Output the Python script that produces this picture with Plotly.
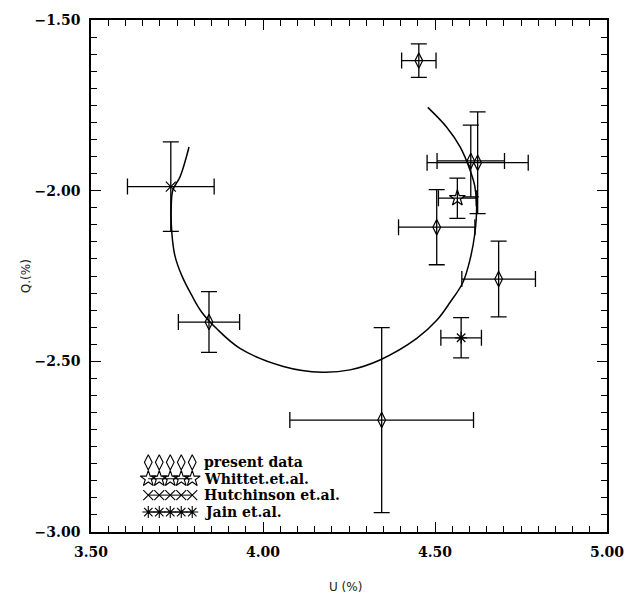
import plotly.graph_objects as go

# ---- present data (open diamonds) ----
present_u = [4.453, 4.604, 4.624, 4.505, 4.685, 3.843, 4.345]
present_q = [-1.619, -1.913, -1.918, -2.107, -2.259, -2.385, -2.672]
present_du = [0.050, 0.098, 0.147, 0.111, 0.107, 0.089, 0.267]
present_dq = [0.049, 0.105, 0.149, 0.110, 0.111, 0.089, 0.271]

# ---- Whittet et al. (star) ----
whittet_u = [4.565]
whittet_q = [-2.022]
whittet_du = [0.055]
whittet_dq = [0.059]

# ---- Hutchinson et al. (cross) ----
hutch_u = [3.732]
hutch_q = [-1.988]
hutch_du = [0.126]
hutch_dq = [0.131]

# ---- Jain et al. (asterisk) ----
jain_u = [4.576]
jain_q = [-2.431]
jain_du = [0.059]
jain_dq = [0.059]

# ---- model curve in the Q-U plane ----
curve_u = [3.785, 3.759, 3.738, 3.733, 3.735, 3.744, 3.764, 3.793, 3.822, 3.865,
           3.933, 4.059, 4.171, 4.253, 4.340, 4.447, 4.505, 4.544, 4.581, 4.602,
           4.616, 4.621, 4.616, 4.602, 4.573, 4.534, 4.479]
curve_q = [-1.872, -1.959, -1.998, -2.056, -2.124, -2.191, -2.249, -2.307, -2.356, -2.404,
           -2.462, -2.515, -2.532, -2.525, -2.496, -2.433, -2.380, -2.327, -2.269, -2.201,
           -2.124, -2.045, -1.988, -1.940, -1.872, -1.814, -1.756]

legend_labels = ["present data", "Whittet.et.al.", "Hutchinson et.al.", "Jain et.al."]

BLACK = "#000000"
SERIF = "DejaVu Serif"


def err(vals):
    return dict(type="data", array=vals, visible=True, color=BLACK, thickness=1.3, width=8)


fig = go.Figure()

fig.add_trace(go.Scatter(x=curve_u, y=curve_q, mode="lines", line_shape="spline",
                         line=dict(color=BLACK, width=1.5), showlegend=False, hoverinfo="skip"))

series = [
    (present_u, present_q, present_du, present_dq, "diamond-tall-open", 11),
    (whittet_u, whittet_q, whittet_du, whittet_dq, "star-open", 12),
    (hutch_u, hutch_q, hutch_du, hutch_dq, "x-thin-open", 10),
    (jain_u, jain_q, jain_du, jain_dq, "asterisk-open", 10),
]
for u, q, du, dq, sym, size in series:
    fig.add_trace(go.Scatter(
        x=u, y=q, mode="markers",
        marker=dict(symbol=sym, size=size, color=BLACK, line=dict(color=BLACK, width=1.2)),
        error_x=err(du), error_y=err(dq), showlegend=False))

# ---- hand-drawn key (five repeated symbols per row) on a hidden overlay axis ----
key_x0, key_step, n_rep = 0.111, 0.0213, 5
key_rows = [0.136, 0.104, 0.072, 0.039]
key_lines = [False, True, True, True]
for (u, q, du, dq, sym, size), row_y, with_line, label in zip(series, key_rows, key_lines, legend_labels):
    xs = [key_x0 + i * key_step for i in range(n_rep)]
    fig.add_trace(go.Scatter(
        x=xs, y=[row_y] * n_rep, xaxis="x2", yaxis="y2",
        mode="lines+markers" if with_line else "markers",
        line=dict(color=BLACK, width=1),
        marker=dict(symbol=sym, size=size, color=BLACK, line=dict(color=BLACK, width=1.1)),
        showlegend=False, hoverinfo="skip"))
    fig.add_annotation(x=key_x0 + (n_rep - 1) * key_step + 0.018, y=row_y, xref="x2", yref="y2",
                       text=label, showarrow=False, xanchor="left", yanchor="middle",
                       font=dict(family=SERIF, size=14, color=BLACK, weight="bold"))

axis_common = dict(
    showline=True, linecolor=BLACK, linewidth=1.5, mirror="ticks",
    ticks="inside", ticklen=10, tickwidth=1.3, tickcolor=BLACK,
    minor=dict(ticks="inside", ticklen=6, tickwidth=1, tickcolor=BLACK, dtick=0.05, showgrid=False),
    showgrid=False, zeroline=False, tickformat=".2f", dtick=0.5,
    tickfont=dict(family=SERIF, size=14, color=BLACK, weight="bold"),
    ticklabelstandoff=6,
)

fig.update_layout(
    width=640, height=598,
    margin=dict(l=91, r=33, t=15, b=66),
    paper_bgcolor="white", plot_bgcolor="white",
    xaxis=dict(range=[3.5, 5.0], tick0=3.5, **axis_common),
    yaxis=dict(range=[-3.0, -1.5], tick0=-3.0, **axis_common),
    xaxis2=dict(overlaying="x", range=[0, 1], visible=False),
    yaxis2=dict(overlaying="y", range=[0, 1], visible=False),
    showlegend=False,
)

fig.add_annotation(x=-0.143, y=0.5, xref="paper", yref="paper", text="Q.(%)", textangle=-90,
                   showarrow=False, font=dict(family="DejaVu Sans", size=12, color="#222"))
fig.add_annotation(x=0.494, y=-0.108, xref="paper", yref="paper", text="U (%)",
                   showarrow=False, yanchor="middle",
                   font=dict(family="DejaVu Sans", size=12, color="#222"))

fig.write_html("out.html")
